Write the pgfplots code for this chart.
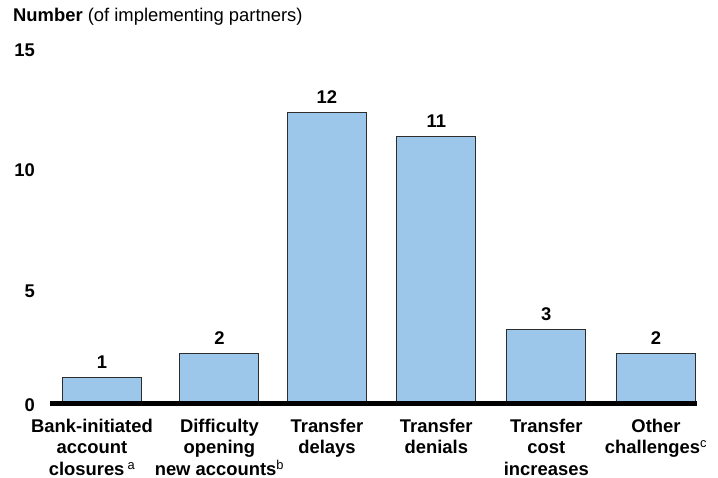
\documentclass[border=0pt]{standalone}
\usepackage{pgfplots}
\pgfplotsset{compat=1.18}
\usepackage{fontspec}
\setmainfont{Liberation Sans}
\definecolor{barblue}{RGB}{157,199,234}
\definecolor{baredge}{RGB}{45,45,45}
\newcommand{\lbl}{\fontsize{18.4}{21.7}\selectfont\bfseries}
\begin{document}
\begin{tikzpicture}
\begin{axis}[
  at={(0,0)}, anchor=south west,
  scale only axis,
  width=647pt, height=361.5pt,
  xmin=-0.4693, xmax=5.37,
  ymin=0, ymax=15,
  clip=false,
  axis line style={draw=none},
  tick style={draw=none},
  xtick pos=bottom, ytick pos=left,
  /pgf/number format/assume math mode=true,
  xtick={1.06,2.03,3.017,4.01,5},
  xticklabels={
    {Difficulty\\opening\\new accounts\textsuperscript{\mdseries b}},
    {Transfer\\delays},
    {Transfer\\denials},
    {Transfer\\cost\\increases},
    {Other\\challenges\textsuperscript{\mdseries c}}},
  extra x ticks={0},
  extra x tick labels={{Bank-initiated\\account\\closures\,\textsuperscript{\mdseries a}}},
  extra x tick style={xticklabel style={xshift=-10pt}},
  xticklabel style={align=center, font=\lbl, anchor=north, inner sep=0pt, yshift=-13pt},
  ytick={5,10,15},
  yticklabels={5,10,15},
  yticklabel style={font=\lbl, anchor=east, inner sep=0pt, xshift=-15pt, yshift=-10pt},
  extra y ticks={0},
  extra y tick labels={0},
  extra y tick style={yticklabel style={yshift=6.5pt}},
  ybar, bar width=79pt,
  nodes near coords,
  nodes near coords style={font=\lbl, anchor=south, inner sep=0pt, yshift=8pt},
]
\addplot[fill=barblue, draw=baredge, line width=0.9pt] coordinates {
  (0,1) (1.06,2) (2.03,12) (3.017,11) (4.01,3) (5,2)
};
\draw[line width=5pt, black] ([yshift=-2.5pt]axis cs:-0.4693,0) -- ([yshift=-2.5pt]axis cs:5.37,0);
\end{axis}
\node[anchor=base west, inner sep=0pt, font=\fontsize{18.4}{21.7}\selectfont] at (-37pt,379.9pt) {\textbf{Number} (of implementing partners)};
\path[use as bounding box] (-50pt,-76.5pt) rectangle (668pt,401.5pt);
\end{tikzpicture}
\end{document}
